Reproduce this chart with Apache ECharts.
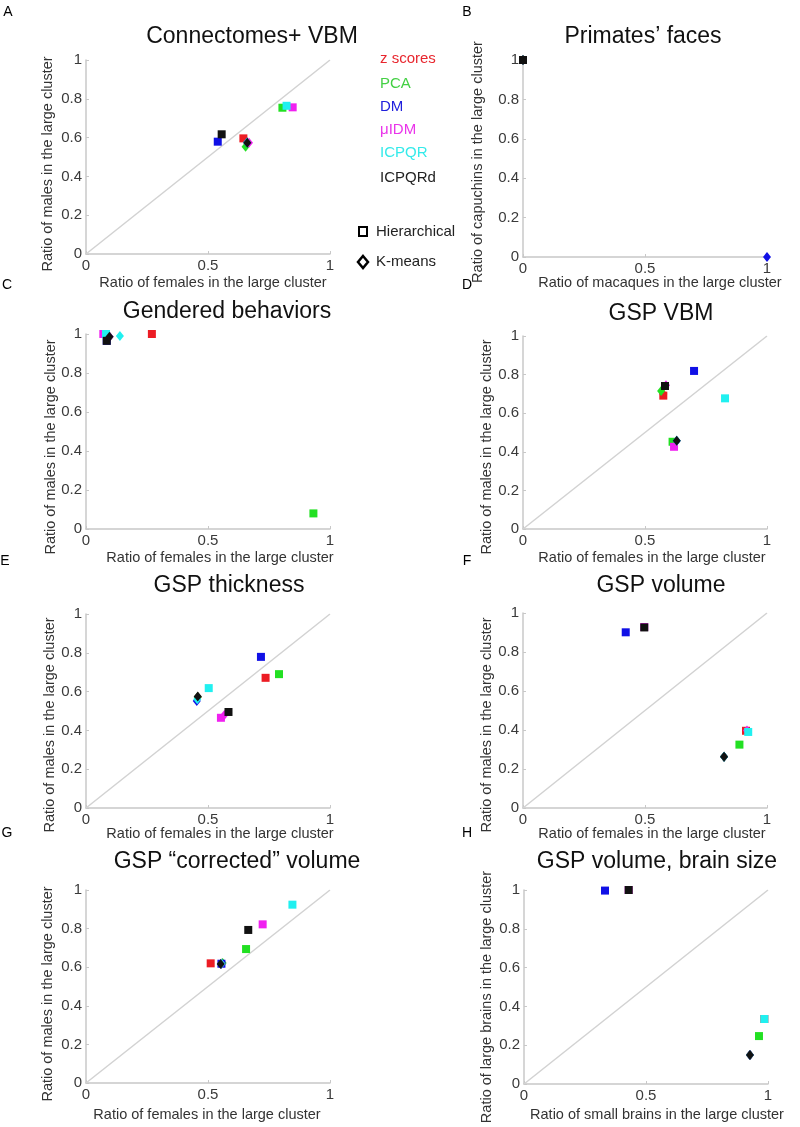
<!DOCTYPE html>
<html>
<head>
<meta charset="utf-8">
<script src="https://cdn.jsdelivr.net/npm/echarts@6/dist/echarts.min.js"></script>
<style>
html,body{margin:0;padding:0;background:#fff}
#main{width:800px;height:1127px}
</style>
</head>
<body>
<div id="main"></div>
<script>
var methods = ['z scores', 'PCA', 'DM', 'μIDM', 'ICPQR', 'ICPQRd']
var titles = ['Connectomes+ VBM', 'Primates\u2019 faces', 'Gendered behaviors', 'GSP VBM',
  'GSP thickness', 'GSP volume', 'GSP \u201ccorrected\u201d volume', 'GSP volume, brain size']
var letters = ['A', 'B', 'C', 'D', 'E', 'F', 'G', 'H']
var xNames = ['Ratio of females in the large cluster', 'Ratio of macaques in the large cluster',
  'Ratio of females in the large cluster', 'Ratio of females in the large cluster',
  'Ratio of females in the large cluster', 'Ratio of females in the large cluster',
  'Ratio of females in the large cluster', 'Ratio of small brains in the large cluster']
var yNames = ['Ratio of males in the large cluster', 'Ratio of capuchins in the large cluster',
  'Ratio of males in the large cluster', 'Ratio of males in the large cluster',
  'Ratio of males in the large cluster', 'Ratio of males in the large cluster',
  'Ratio of males in the large cluster', 'Ratio of large brains in the large cluster']
var legendTypes = ['Hierarchical', 'K-means']
var diagonal = [[0, 0], [1, 1]]
var hasDiagonal = [true, false, false, true, true, true, true, true]

// [x, y] per method (same order as methods)
var hierA = [[0.645, 0.596], [0.805, 0.754], [0.540, 0.579], [0.847, 0.756], [0.822, 0.764], [0.556, 0.617]]
var kmA   = [[0.660, 0.575], [0.654, 0.553], [0.660, 0.575], [0.668, 0.574], [0.660, 0.575], [0.661, 0.574]]
var hierB = [[0, 1], [0, 1], [0, 1], [0, 1], [0, 1], [0, 1]]
var kmB   = [[0, 1], [0, 1], [1, 0], [0, 1], [0, 1], [0, 1]]
var hierC = [[0.270, 1.0], [0.932, 0.080], [0.085, 0.965], [0.071, 1.0], [0.082, 1.0], [0.085, 0.965]]
var kmC   = [[0.096, 0.986], [0.096, 0.986], [0.096, 0.986], [0.096, 0.986], [0.139, 0.990], [0.096, 0.986]]
var hierD = [[0.575, 0.691], [0.613, 0.452], [0.701, 0.819], [0.619, 0.426], [0.828, 0.677], [0.582, 0.741]]
var kmD   = [[0.575, 0.700], [0.566, 0.715], [0.630, 0.457], [0.586, 0.745], [0.630, 0.457], [0.630, 0.457]]
var hierE = [[0.736, 0.671], [0.791, 0.690], [0.717, 0.779], [0.553, 0.465], [0.503, 0.618], [0.584, 0.495]]
var kmE   = [[0.458, 0.572], [0.458, 0.572], [0.454, 0.552], [0.567, 0.480], [0.456, 0.560], [0.458, 0.575]]
var hierF = [[0.914, 0.396], [0.887, 0.325], [0.421, 0.901], [0.497, 0.928], [0.923, 0.390], [0.497, 0.926]]
var kmF   = [[0.824, 0.263], [0.824, 0.263], [0.824, 0.263], [0.918, 0.398], [0.824, 0.263], [0.824, 0.263]]
var hierG = [[0.511, 0.620], [0.656, 0.694], [0.555, 0.618], [0.724, 0.822], [0.846, 0.924], [0.665, 0.793]]
var kmG   = [[0.555, 0.618], [0.560, 0.622], [0.555, 0.618], [0.555, 0.618], [0.555, 0.618], [0.552, 0.617]]
var hierH = [[0.985, 0.335], [0.963, 0.247], [0.332, 0.997], [0.429, 1.0], [0.985, 0.335], [0.429, 1.0]]
var kmH   = [[0.926, 0.149], [0.926, 0.149], [0.926, 0.149], [0.926, 0.149], [0.926, 0.149], [0.926, 0.149]]

var hierAll = [hierA, hierB, hierC, hierD, hierE, hierF, hierG, hierH]
var kmAll = [kmA, kmB, kmC, kmD, kmE, kmF, kmG, kmH]

// styles / layout
var FONT = '"Liberation Sans", Arial, Helvetica, sans-serif'
var markColors = ['#ec1c24', '#22e022', '#1010e6', '#f020f0', '#20f0f0', '#111111']
var textColors = ['#e8262e', '#44d044', '#2020dc', '#ea34ea', '#34eaea', '#222222']
var grids = [
  {left: 86, top: 60, width: 244, height: 194},
  {left: 523, top: 60, width: 244, height: 197},
  {left: 86, top: 334, width: 244, height: 195},
  {left: 523, top: 336, width: 244, height: 193},
  {left: 86, top: 614, width: 244, height: 194},
  {left: 523, top: 613, width: 244, height: 195},
  {left: 86, top: 890, width: 244, height: 193},
  {left: 524, top: 890, width: 244, height: 194}
]
var titlePos = [[252, 37], [643, 37], [227, 312], [661, 314], [229, 586], [661, 586], [237, 862], [657, 862]]
var letterPos = [[8, 12], [467, 12], [7, 285], [467, 285], [5, 561], [467, 561], [7, 833], [467, 833]]
var xNamePos = [[213, 283], [660, 283], [220, 558], [652, 558], [220, 834], [652, 834], [207, 1115], [657, 1115]]
var yNamePos = [[48, 164], [478, 162], [51, 447], [487, 447], [50, 725], [487, 725], [48, 994], [487, 997]]

var chart = echarts.init(document.getElementById('main'), null, {renderer: 'canvas'})

var xAxes = [], yAxes = [], series = [], graphics = []
for (var i = 0; i < 8; i++) {
  var axisCommon = {
    gridIndex: i, type: 'value', min: 0, max: 1,
    axisLine: {show: true, onZero: false, lineStyle: {color: '#c8c8c8', width: 1.5}},
    axisTick: {show: true, inside: true, length: 3, lineStyle: {color: '#c8c8c8'}},
    splitLine: {show: false},
    axisLabel: {color: '#3a3a3a', fontSize: 15, fontFamily: FONT, margin: 4, showMinLabel: true, showMaxLabel: true}
  }
  xAxes.push(Object.assign({}, axisCommon, {interval: 0.5}))
  yAxes.push(Object.assign({}, axisCommon, {interval: 0.2}))

  if (hasDiagonal[i]) {
    series.push({
      type: 'line', xAxisIndex: i, yAxisIndex: i, data: diagonal,
      symbol: 'none', silent: true, z: 1,
      lineStyle: {color: '#d2d2d2', width: 1.5}
    })
  }
  for (var m = 0; m < methods.length; m++) {
    series.push({
      name: methods[m] + ' ' + legendTypes[0], type: 'scatter', xAxisIndex: i, yAxisIndex: i,
      data: [hierAll[i][m]], symbol: 'rect', symbolSize: 8, z: 3,
      itemStyle: {color: markColors[m], opacity: 1}
    })
    series.push({
      name: methods[m] + ' ' + legendTypes[1], type: 'scatter', xAxisIndex: i, yAxisIndex: i,
      data: [kmAll[i][m]], symbol: 'diamond', symbolSize: [8, 10], z: 3,
      itemStyle: {color: markColors[m], opacity: 1}
    })
  }

  graphics.push({type: 'text', x: titlePos[i][0], y: titlePos[i][1],
    style: {text: titles[i], font: '23px ' + FONT, fill: '#111', textAlign: 'center', textVerticalAlign: 'middle'}})
  graphics.push({type: 'text', x: letterPos[i][0], y: letterPos[i][1],
    style: {text: letters[i], font: '14px ' + FONT, fill: '#000', textAlign: 'center', textVerticalAlign: 'middle'}})
  graphics.push({type: 'text', x: xNamePos[i][0], y: xNamePos[i][1],
    style: {text: xNames[i], font: '14.5px ' + FONT, fill: '#333', textAlign: 'center', textVerticalAlign: 'middle'}})
  graphics.push({type: 'text', x: yNamePos[i][0], y: yNamePos[i][1], rotation: Math.PI / 2,
    style: {text: yNames[i], font: '14.5px ' + FONT, fill: '#333', textAlign: 'center', textVerticalAlign: 'middle'}})
}

// legend block in panel A
var legendY = [59, 84, 107, 130, 153, 178]
for (var k = 0; k < methods.length; k++) {
  graphics.push({type: 'text', x: 380, y: legendY[k],
    style: {text: methods[k], font: '15px ' + FONT, fill: textColors[k], textVerticalAlign: 'middle'}})
}
graphics.push({type: 'rect', shape: {x: 359, y: 227, width: 8, height: 9},
  style: {fill: '#fff', stroke: '#000', lineWidth: 2}})
graphics.push({type: 'text', x: 376, y: 232,
  style: {text: legendTypes[0], font: '15px ' + FONT, fill: '#222', textVerticalAlign: 'middle'}})
graphics.push({type: 'polygon', shape: {points: [[363, 256], [368, 262], [363, 268], [358, 262]]},
  style: {fill: '#fff', stroke: '#000', lineWidth: 2.5}})
graphics.push({type: 'text', x: 376, y: 262,
  style: {text: legendTypes[1], font: '15px ' + FONT, fill: '#222', textVerticalAlign: 'middle'}})

chart.setOption({
  animation: false,
  backgroundColor: '#fff',
  grid: grids,
  xAxis: xAxes,
  yAxis: yAxes,
  series: series,
  graphic: graphics
})
</script>
</body>
</html>
